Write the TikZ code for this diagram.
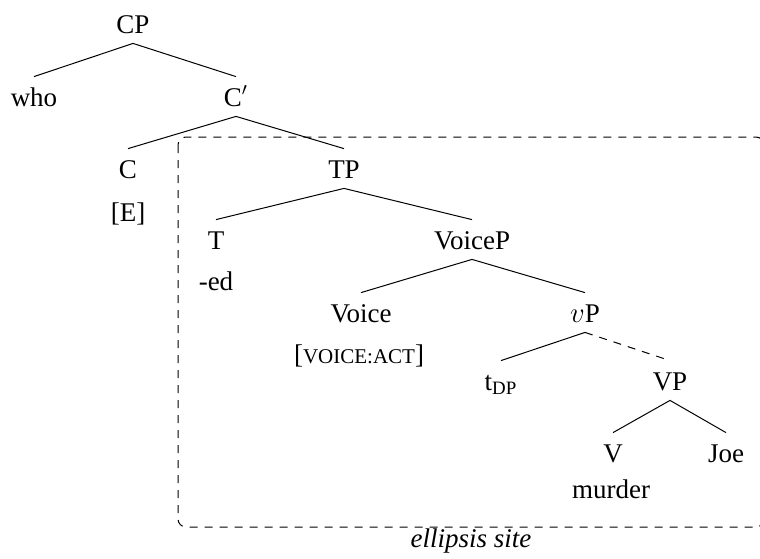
\documentclass[tikz,border=0pt]{standalone}
\usepackage{fontspec}
\setmainfont{Liberation Serif}
\begin{document}
\begin{tikzpicture}[x=0.5pt,y=-0.5pt,
  cat/.style={anchor=base, inner sep=0pt, text height=14.5pt, text depth=5pt,
    font=\fontsize{13.5}{16}\selectfont},
  word/.style={anchor=base, inner sep=0pt, font=\fontsize{13.5}{16}\selectfont},
  branch/.style={line width=0.5pt},
  elided/.style={line width=0.5pt, dash pattern=on 4pt off 3.5pt},
  site/.style={line width=0.5pt, dash pattern=on 4pt off 3.5pt, rounded corners=4pt}]
\useasboundingbox (0,0) rectangle (760,558);
\clip (0,0) rectangle (760,558);

% the elided constituent
\draw[site] (178,137) rectangle (764,527);
\node[word, font=\fontsize{13.5}{16}\selectfont\itshape] (site) at (471,547) {ellipsis site};

% categories
\node[cat] (cp)     at (133,33)  {CP};
\node[cat] (who)    at (34,106)  {who};
\node[cat] (cbar)   at (236,106) {C$'$};
\node[cat] (c)      at (128,178) {C};
\node[cat] (tp)     at (344,178) {TP};
\node[cat] (t)      at (216,249) {T};
\node[cat] (voicep) at (472,249) {VoiceP};
\node[cat] (voice)  at (361,322) {Voice};
\node[cat] (vp)     at (585,322) {$v$P};
\node[cat] (tdp)    at (501,390) {t\textsubscript{DP}};
\node[cat] (bigvp)  at (670,390) {VP};
\node[cat] (v)      at (613,462) {V};
\node[cat] (joe)    at (726,462) {Joe};

% features and exponents under the heads
\node[word] (e)      at (128,221) {[E]};
\node[word] (ed)     at (216,290) {-ed};
\node[word] (vact)   at (359,363) {[{\fontsize{10.5}{12}\selectfont VOICE:ACT}]};
\node[word] (murder) at (611,498) {murder};

% branches
\draw[branch] (cp.south) -- (who.north);
\draw[branch] (cp.south) -- (cbar.north);
\draw[branch] (cbar.south) -- (c.north);
\draw[branch] (cbar.south) -- (tp.north);
\draw[branch] (tp.south) -- (t.north);
\draw[branch] (tp.south) -- (voicep.north);
\draw[branch] (voicep.south) -- (voice.north);
\draw[branch] (voicep.south) -- (vp.north);
\draw[branch] (vp.south) -- (tdp.north);
\draw[elided] (vp.south) -- (bigvp.north);
\draw[branch] (bigvp.south) -- (v.north);
\draw[branch] (bigvp.south) -- (joe.north);
\end{tikzpicture}
\end{document}
